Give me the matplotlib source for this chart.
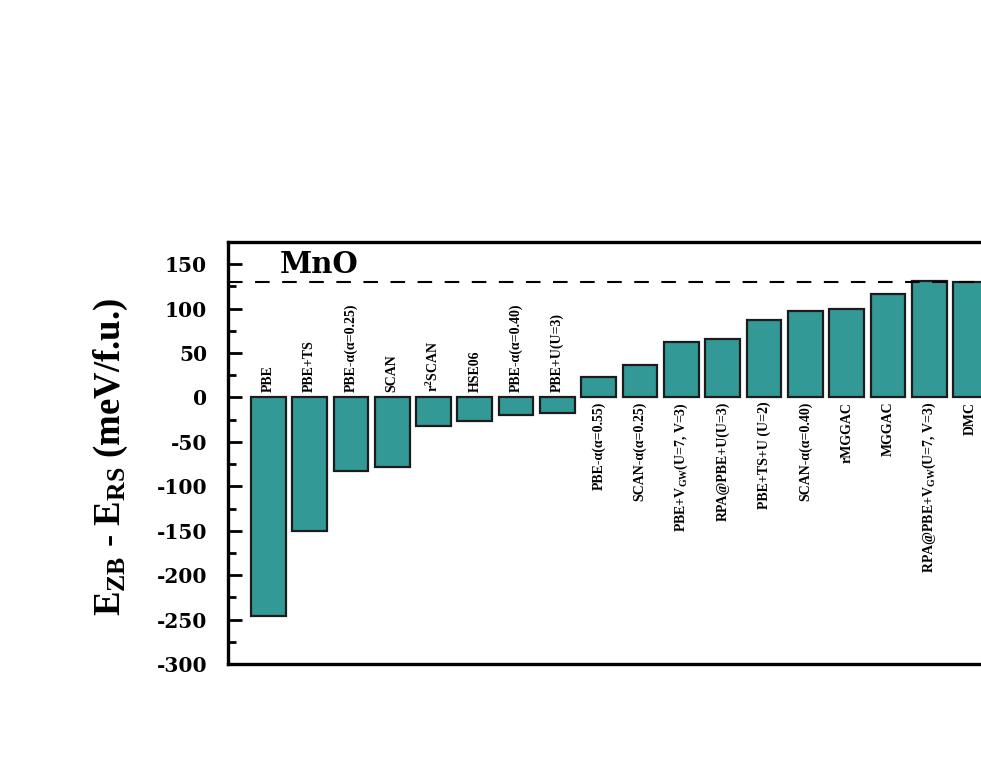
## Imports
import numpy as np
import matplotlib
matplotlib.use('Agg')
import matplotlib.pyplot as plt
from matplotlib.ticker import MultipleLocator

## Data
methods = ['PBE', 'PBE+TS', 'PBE-α(α=0.25)', 'SCAN', 'r$^2$SCAN', 'HSE06',
           'PBE-α(α=0.40)', 'PBE+U(U=3)', 'PBE-α(α=0.55)', 'SCAN-α(α=0.25)',
           'PBE+V$_{GW}$(U=7, V=3)', 'RPA@PBE+U(U=3)', 'PBE+TS+U (U=2)',
           'SCAN-α(α=0.40)', 'rMGGAC', 'MGGAC', 'RPA@PBE+V$_{GW}$(U=7, V=3)', 'DMC']
dE = [-246, -150, -83, -78, -32, -27, -20, -17, 23, 37, 63, 66, 87, 97, 100, 117, 131, 130.5]
dmc_ref = 130.5
material = 'MnO'

## Style
plt.rcParams['mathtext.default'] = 'regular'
plt.rcParams['axes.unicode_minus'] = False
label_font = dict(family='Liberation Serif', weight='bold')
tick_font = dict(family='DejaVu Serif', weight='bold')

fig = plt.figure(figsize=(9.81, 7.63), dpi=100)
ax = fig.add_axes([0.2324, 0.1298, 0.799, 0.553])  # right part runs off the figure like the original

x = np.arange(len(methods))
ax.bar(x, dE, width=0.84, color='#339996', edgecolor='#1c1c1c', linewidth=1.6, zorder=2)
ax.axhline(dmc_ref, color='black', lw=1.5, dashes=(7, 6), zorder=3)

# method names written along the bars, above zero for negative bars, below for positive
for i, (name, v) in enumerate(zip(methods, dE)):
    if v < 0:
        ax.annotate(name, (i, 0), xytext=(0, 4), textcoords='offset points', rotation=90,
                    ha='center', va='bottom', fontsize=10, **label_font)
    else:
        ax.annotate(name, (i, 0), xytext=(0, -3), textcoords='offset points', rotation=90,
                    ha='center', va='top', fontsize=10, **label_font)

ax.text(0.066, 140.5, material, transform=ax.get_yaxis_transform(), va='baseline',
        fontsize=21, **tick_font)

ax.set_xlim(-0.976, 18)
ax.set_ylim(-300, 175)
ax.set_xticks([])
ax.yaxis.set_major_locator(MultipleLocator(50))
ax.yaxis.set_minor_locator(MultipleLocator(25))
ax.tick_params(axis='y', which='major', direction='in', length=10, width=2, pad=15)
ax.tick_params(axis='y', which='minor', direction='in', length=6, width=2)
for t in ax.get_yticklabels():
    t.set_fontsize(14.5)
    t.set_fontfamily('DejaVu Serif')
    t.set_fontweight('bold')
for s in ax.spines.values():
    s.set_linewidth(2.4)

ax.set_ylabel('E$_{ZB}$ - E$_{RS}$ (meV/f.u.)', fontsize=26.5, **label_font)
ax.yaxis.set_label_coords(-0.125, 0.49)

fig.savefig('out.png', dpi=100)
